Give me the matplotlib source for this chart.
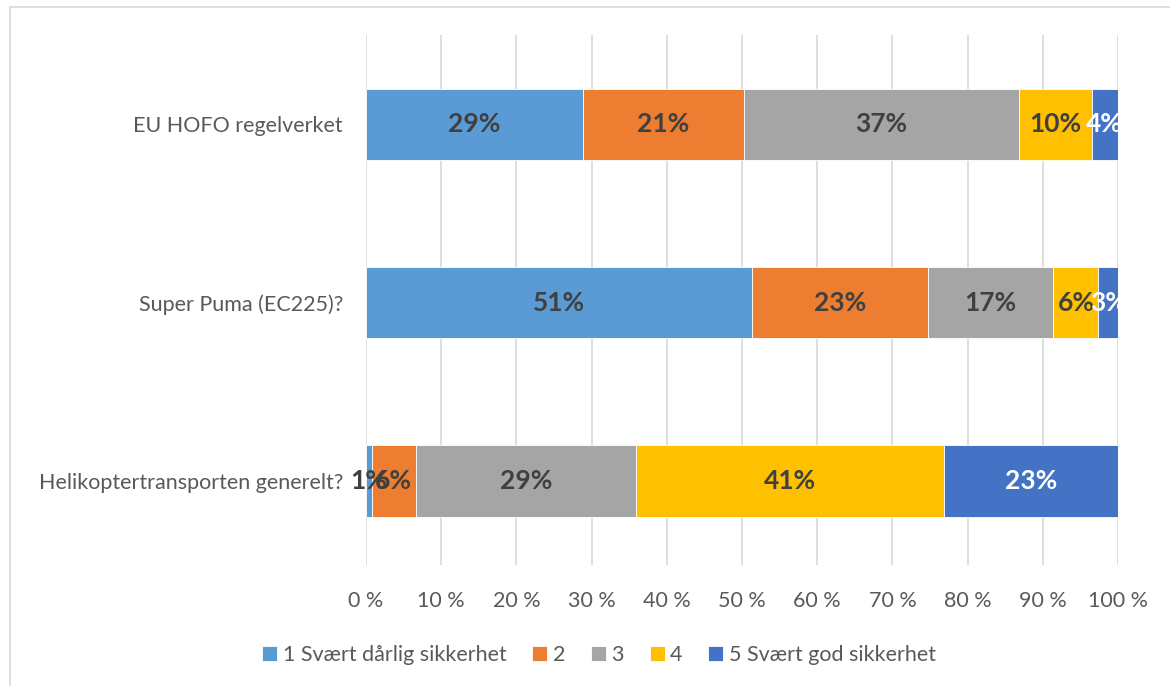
import matplotlib.pyplot as plt
import matplotlib.patches as mpatches
import numpy as np

plt.rcParams['font.family'] = ['Lato', 'DejaVu Sans']

categories = ['Helikoptertransporten generelt?', 'Super Puma (EC225)?', 'EU HOFO regelverket']
series = ['1 Svært dårlig sikkerhet', '2', '3', '4', '5 Svært god sikkerhet']
values = np.array([
    [0.8, 5.8, 29.3, 41.0, 23.1],
    [51.3, 23.4, 16.7, 6.0, 2.6],
    [28.9, 21.3, 36.6, 9.7, 3.5],
])
labels = [
    ['1%', '6%', '29%', '41%', '23%'],
    ['51%', '23%', '17%', '6%', '3%'],
    ['29%', '21%', '37%', '10%', '4%'],
]
colors = ['#5B9BD5', '#ED7D31', '#A5A5A5', '#FFC000', '#4472C4']
label_colors = ['#404040', '#404040', '#404040', '#404040', 'white']
xticks = np.arange(0, 101, 10)

fig = plt.figure(figsize=(11.7, 6.86), dpi=100)
ax = fig.add_axes([366 / 1170, 1 - 565 / 686, 752 / 1170, 530 / 686])

# outer frame of the chart area
fig.patches.append(mpatches.Rectangle((10 / 1170, -0.1), 1.2, 1 - 7 / 686 + 0.1,
                                      transform=fig.transFigure, fill=False,
                                      edgecolor='#D9D9D9', linewidth=1.2))

y = np.arange(len(categories))
left = np.zeros(len(categories))
for j, name in enumerate(series):
    ax.barh(y, values[:, j], left=left, height=0.4, color=colors[j],
            edgecolor='white', linewidth=0.6, label=name, zorder=3)
    for i in range(len(categories)):
        ax.text(left[i] + values[i, j] / 2, y[i], labels[i][j], ha='center', va='center',
                fontsize=19, fontweight='bold', color=label_colors[j], zorder=4)
    left += values[:, j]

ax.set_xlim(0, 100)
ax.set_ylim(-0.47, 2.5)
ax.set_xticks(xticks)
ax.set_xticklabels([f'{t} %' for t in xticks])
ax.set_yticks(y)
ax.set_yticklabels(categories)
ax.grid(axis='x', color='#D9D9D9', linewidth=1.2, zorder=0)
ax.tick_params(axis='both', length=0, labelcolor='#595959')
ax.tick_params(axis='x', pad=19, labelsize=15.5)
ax.tick_params(axis='y', pad=16.5, labelsize=15.5)
for s in ax.spines.values():
    s.set_visible(False)

fig.legend(loc='center', bbox_to_anchor=(599 / 1170, 1 - 655 / 686), ncol=5,
           frameon=False, fontsize=15.5, labelcolor='#595959', handlelength=0.7,
           handleheight=0.7, handletextpad=0.25, columnspacing=1.2)

fig.savefig('out.png', dpi=100)
